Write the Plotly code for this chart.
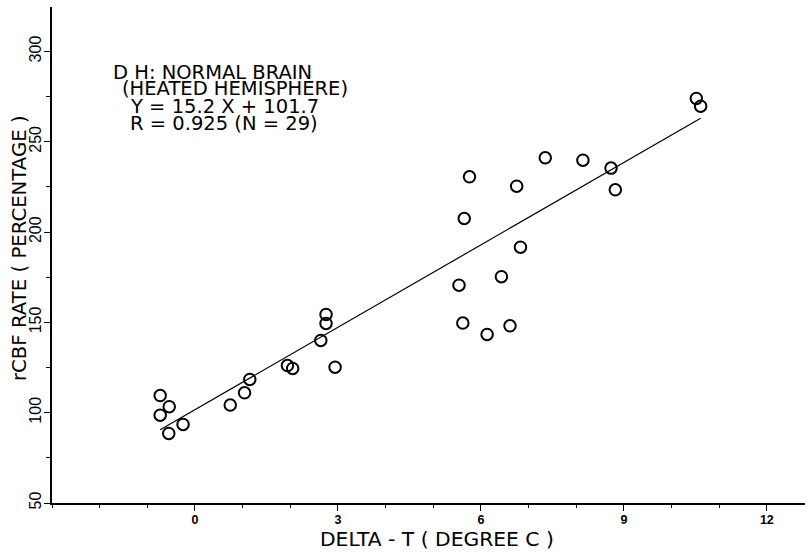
import plotly.graph_objects as go

# ---- data ----
delta_t = [-0.73, -0.54, -0.73, -0.55, -0.25, 0.74, 1.04, 1.15, 1.94, 2.05,
           2.94, 2.64, 2.75, 2.75, 5.54, 5.62, 5.65, 5.76, 6.13, 6.43,
           6.61, 6.75, 6.83, 7.35, 8.14, 8.73, 8.82, 10.52, 10.61]
rcbf = [109.5, 103.3, 98.6, 88.5, 93.5, 104.2, 111.0, 118.4, 126.1, 124.5,
        125.2, 140.0, 149.4, 154.4, 170.6, 149.6, 207.5, 230.6, 143.3, 175.3,
        148.1, 225.4, 191.6, 241.1, 239.8, 235.4, 223.4, 274.0, 269.7]
slope = 15.2
intercept = 101.7
x_ticks = [0, 3, 6, 9, 12]
y_ticks = [50, 100, 150, 200, 250, 300]
label_lines = ["D H: NORMAL BRAIN", "(HEATED HEMISPHERE)",
               "Y = 15.2 X + 101.7", "R = 0.925 (N = 29)"]
x_title = "DELTA - T ( DEGREE C )"
y_title = "rCBF RATE ( PERCENTAGE )"

W, H = 805, 553
L, R, T, B = 52, 0, 7, 50
FONT = "DejaVu Sans, Verdana, sans-serif"
TICKFONT = "Liberation Sans, Arial, sans-serif"

def px(xp):
    return (xp - L) / (W - L - R)

def py(yp):
    return (H - B - yp) / (H - B - T)

line_x = [min(delta_t), max(delta_t)]
line_y = [slope * v + intercept for v in line_x]

fig = go.Figure()
fig.add_trace(go.Scatter(x=line_x, y=line_y, mode="lines",
                         line=dict(color="black", width=1.2),
                         showlegend=False, hoverinfo="skip"))
fig.add_trace(go.Scatter(x=delta_t, y=rcbf, mode="markers",
                         marker=dict(symbol="circle-open", size=11.5,
                                     color="black",
                                     line=dict(color="black", width=2)),
                         showlegend=False))

# text block
text_pos = [(112, 72), (121, 89), (129, 106), (129, 123)]
for txt, (xp, yp) in zip(label_lines, text_pos):
    fig.add_annotation(text=txt, xref="paper", yref="paper",
                       x=px(xp), y=py(yp), xanchor="left", yanchor="middle",
                       showarrow=False, borderpad=0,
                       font=dict(family=FONT, size=19.5, color="black"))

fig.add_annotation(text=x_title, xref="paper", yref="paper",
                   x=px(437), y=py(539), xanchor="center", yanchor="middle",
                   showarrow=False, font=dict(family=FONT, size=20.3, color="black"))
fig.add_annotation(text=y_title, xref="paper", yref="paper",
                   x=px(20), y=py(248), xanchor="center", yanchor="middle",
                   textangle=-90, showarrow=False,
                   font=dict(family=FONT, size=19.7, color="black"))

fig.update_xaxes(range=[-3.0, 12.8], tickmode="array", tickvals=x_ticks,
                 ticktext=[str(v) for v in x_ticks], automargin=False,
                 ticklabelstandoff=-2,
                 showline=True, linecolor="black", linewidth=1.5,
                 ticks="outside", ticklen=6, tickwidth=1.2, tickcolor="black",
                 showgrid=False, zeroline=False,
                 tickfont=dict(family=TICKFONT, size=12.5, color="black", weight="bold"),
                 minor=dict(tickmode="linear", tick0=0, dtick=1, ticks="outside",
                            ticklen=3, tickwidth=1, tickcolor="black",
                            showgrid=False))
fig.update_yaxes(range=[50, 324.6], tickmode="array", tickvals=y_ticks,
                 ticktext=[str(v) for v in y_ticks], tickangle=-90,
                 automargin=False, ticklabelstandoff=-3,
                 showline=True, linecolor="black", linewidth=1.5,
                 ticks="outside", ticklen=6, tickwidth=1.2, tickcolor="black",
                 showgrid=False, zeroline=False,
                 tickfont=dict(family=TICKFONT, size=16, color="black"),
                 minor=dict(tickmode="linear", tick0=0, dtick=25, ticks="outside",
                            ticklen=4, tickwidth=1, tickcolor="black",
                            showgrid=False))

fig.update_layout(width=W, height=H, margin=dict(l=L, r=R, t=T, b=B),
                  plot_bgcolor="white", paper_bgcolor="white",
                  showlegend=False)

fig.write_html("out.html", config={"displayModeBar": False},
               post_script="document.body.style.margin='0';"
                           "document.body.style.overflow='hidden';")
